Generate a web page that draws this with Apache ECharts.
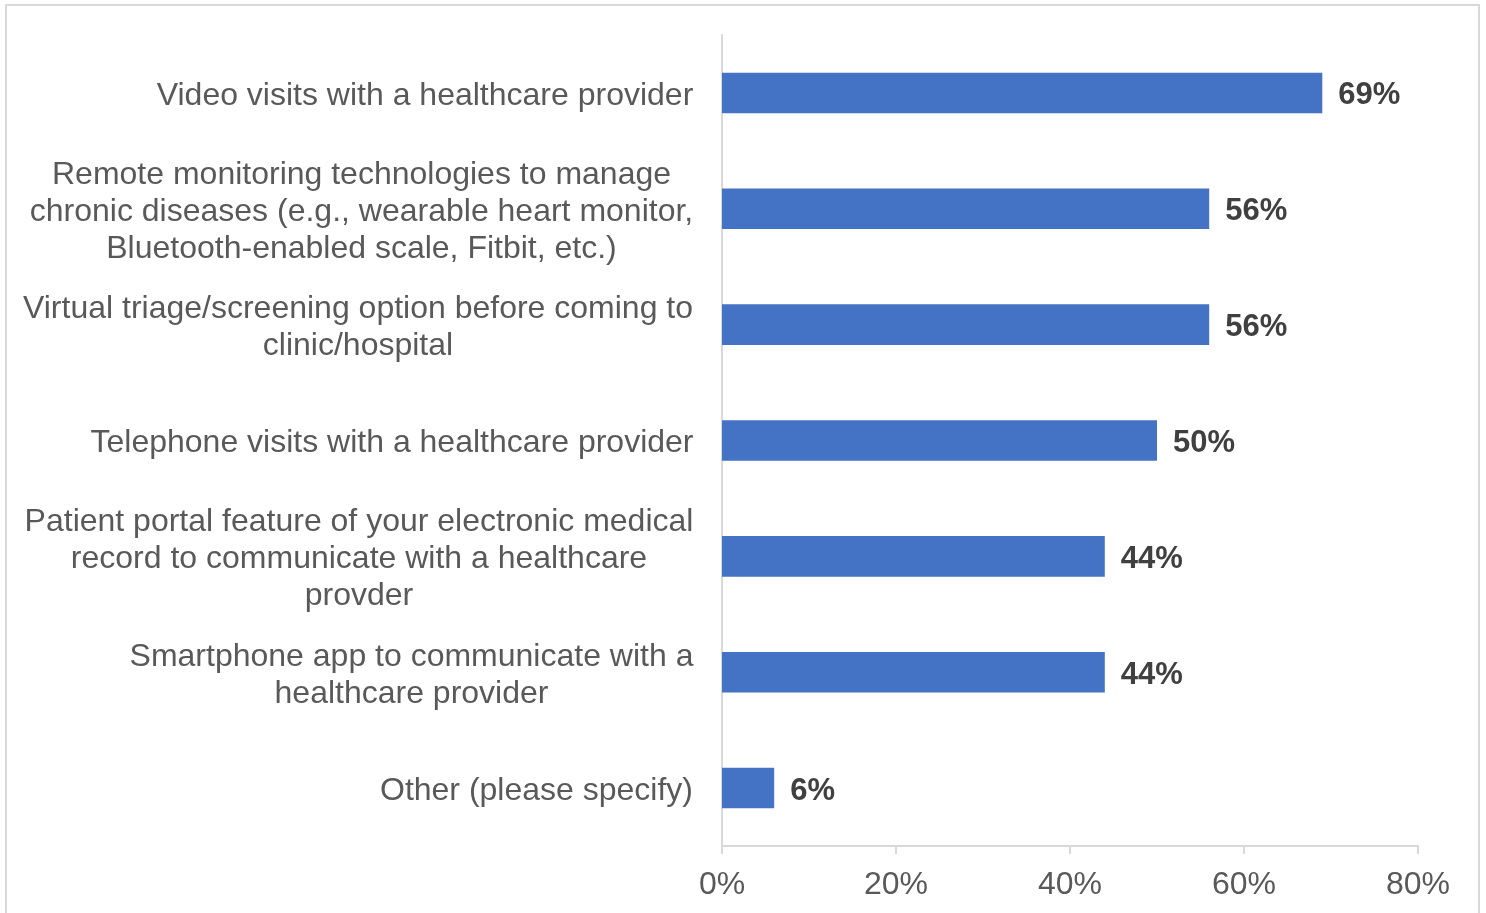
<!DOCTYPE html>
<html>
<head>
<meta charset="utf-8">
<script src="https://cdn.jsdelivr.net/npm/echarts@6/dist/echarts.min.js"></script>
<style>
  html, body { margin: 0; padding: 0; background: #ffffff; }
  #chart { width: 1486px; height: 913px; }
</style>
</head>
<body>
<div id="chart"></div>
<script>
// Survey options, listed top to bottom
const categories = [
  'Video visits with a healthcare provider',
  'Remote monitoring technologies to manage\nchronic diseases (e.g., wearable heart monitor,\nBluetooth-enabled scale, Fitbit, etc.)',
  'Virtual triage/screening option before coming to\nclinic/hospital',
  'Telephone visits with a healthcare provider',
  'Patient portal feature of your electronic medical\nrecord to communicate with a healthcare\nprovder',
  'Smartphone app to communicate with a\nhealthcare provider',
  'Other (please specify)'
];
// Share of respondents (%)
const values = [69, 56, 56, 50, 44, 44, 6];
// Value axis ticks (%)
const xTicks = [0, 20, 40, 60, 80];

const FONT = "'Liberation Sans', Arial, sans-serif";
const CAT_SIZE = 32;
const CAT_LINE = 37;

// Measure the widest line of each label so its lines can be centred in one block
const ctx = document.createElement('canvas').getContext('2d');
ctx.font = CAT_SIZE + 'px ' + FONT;
const rich = {};
categories.forEach((c, i) => {
  const w = Math.max(...c.split('\n').map(l => ctx.measureText(l).width));
  rich['c' + i] = {
    width: Math.ceil(w) + 1,
    align: 'center',
    fontSize: CAT_SIZE,
    lineHeight: CAT_LINE,
    fontFamily: FONT,
    color: '#595959'
  };
});

const chart = echarts.init(document.getElementById('chart'), null, { renderer: 'canvas' });
chart.setOption({
  animation: false,
  backgroundColor: '#ffffff',
  graphic: [{
    type: 'rect',
    shape: { x: 6, y: 5, width: 1473, height: 912 },
    style: { fill: 'none', stroke: '#d9d9d9', lineWidth: 2 },
    silent: true
  }],
  grid: { left: 722, right: 68, top: 35, bottom: 67, containLabel: false },
  xAxis: {
    type: 'value',
    min: xTicks[0],
    max: xTicks[xTicks.length - 1],
    interval: xTicks[1] - xTicks[0],
    axisLine: { show: true, lineStyle: { color: '#d9d9d9', width: 2 } },
    axisTick: { show: true, length: 8, lineStyle: { color: '#d9d9d9', width: 2 } },
    splitLine: { show: false },
    axisLabel: {
      formatter: '{value}%',
      fontFamily: FONT,
      fontSize: 32,
      color: '#595959',
      margin: 23
    }
  },
  yAxis: {
    type: 'category',
    data: categories,
    inverse: true,
    axisLine: { show: true, lineStyle: { color: '#d9d9d9', width: 2 } },
    axisTick: { show: false },
    splitLine: { show: false },
    axisLabel: {
      margin: 28,
      padding: [6, 0, 0, 0],
      formatter: (v, i) => v.split('\n').map(l => '{c' + i + '|' + l + '}').join('\n'),
      rich: rich
    }
  },
  series: [{
    type: 'bar',
    data: values,
    barWidth: '35%',
    itemStyle: { color: '#4472C4' },
    label: {
      show: true,
      position: 'right',
      distance: 16,
      offset: [0, 3],
      formatter: '{c}%',
      fontFamily: FONT,
      fontSize: 31,
      fontWeight: 'bold',
      color: '#404040'
    }
  }]
});
</script>
</body>
</html>
